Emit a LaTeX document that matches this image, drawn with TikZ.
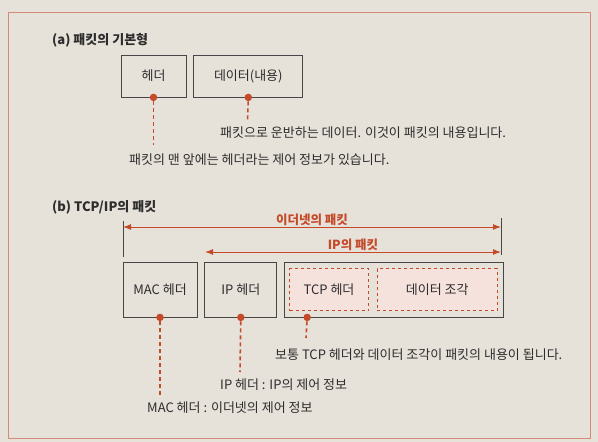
\documentclass[tikz,border=0pt]{standalone}
\usepackage{fontspec}
\setmainfont{Noto Sans CJK KR}
\usetikzlibrary{arrows.meta,positioning}
\definecolor{accent}{RGB}{196,74,42}
\definecolor{boxline}{RGB}{70,70,70}
\definecolor{ink}{RGB}{45,45,45}
\definecolor{paper}{RGB}{230,225,217}
\definecolor{frameline}{RGB}{212,140,120}

\begin{document}
\begin{tikzpicture}[x=1pt, y=-1pt, font=\fontsize{13}{15}\selectfont, text=ink, node distance=7pt]
\tikzstyle{box}=[rectangle, draw=boxline, line width=0.8pt, inner sep=0pt, align=center]
\tikzstyle{part}=[rectangle, draw=accent, dashed, fill=accent!16, line width=0.7pt, inner sep=0pt, minimum height=42pt]
\tikzstyle{knob}=[circle, fill=accent, inner sep=0pt, minimum size=7.5pt]
\tikzstyle{leadline}=[accent, line width=1.6pt, dash pattern=on 4pt off 3pt]
\tikzstyle{note}=[anchor=west, inner sep=0pt]
\tikzstyle{heading}=[anchor=west, inner sep=0pt, font=\fontsize{13}{15}\selectfont\bfseries]
\tikzstyle{spanarrow}=[accent, line width=1pt, {Latex[length=8pt,width=6pt]}-{Latex[length=8pt,width=6pt]}]
\tikzstyle{spanlabel}=[above=1pt, inner sep=0pt, text=accent, font=\fontsize{12.5}{14}\selectfont\bfseries]
\tikzstyle{tick}=[boxline, line width=0.6pt]
\fill[paper] (0,0) rectangle (598,442);
\draw[frameline, line width=0.8pt] (8,12) rectangle (590,438);

\node[heading] (ta) at (52,40) {(a) 패킷의 기본형};
\node[box, minimum width=65pt, minimum height=42pt] (hdr) at (153.5,76) {헤더};
\node[box, minimum width=109pt, minimum height=42pt, right=of hdr] (data) {데이터(내용)};
\node[knob] (hdot) at (hdr.south) {};
\node[knob] (ddot) at (data.south) {};
\coordinate (hend) at (153.5,145);
\coordinate (dend) at (247.5,122);
\draw[leadline] (hdot) -- (hend);
\draw[leadline] (ddot) -- (dend);
\node[note] (dnote) at (220,133) {패킷으로 운반하는 데이터. 이것이 패킷의 내용입니다.};
\node[note] (hnote) at (129,160) {패킷의 맨 앞에는 헤더라는 제어 정보가 있습니다.};

\node[heading] (tb) at (52,207) {(b) TCP/IP의 패킷};
\coordinate (ltop) at (123,221);
\coordinate (lbot) at (123,257);
\coordinate (rtop) at (501,218);
\coordinate (rbot) at (501,255);
\coordinate (ethl) at (123,227);
\coordinate (ethr) at (501,227);
\coordinate (ipl) at (205,252);
\coordinate (ipr) at (501,252);
\draw[tick] (ltop) -- (lbot);
\draw[tick] (rtop) -- (rbot);
\draw[spanarrow] (ethl) -- node[spanlabel] (ethlabel) {이더넷의 패킷} (ethr);
\draw[spanarrow] (ipl) -- node[spanlabel] (iplabel) {IP의 패킷} (ipr);

\node[box, minimum width=74pt, minimum height=55pt] (mac) at (160,289.5) {MAC 헤더};
\node[box, minimum width=72pt, minimum height=55pt, right=of mac] (iph) {IP 헤더};
\node[box, minimum width=219pt, minimum height=55pt, right=of iph] (body) {};
\node[part, minimum width=79pt, right=5pt of body.west] (tcp) {TCP 헤더};
\node[part, minimum width=120pt, right=8pt of tcp] (piece) {데이터 조각};
\node[knob] (mdot) at (mac.south) {};
\node[knob] (idot) at (iph.south) {};
\node[knob] (tdot) at ([xshift=23pt]body.south west) {};
\coordinate (mend) at (160,397);
\coordinate (iend) at (240,372);
\coordinate (tend) at (306,338);
\draw[leadline] (mdot) -- (mend);
\draw[leadline] (idot) -- (iend);
\draw[leadline] (tdot) -- (tend);
\node[note] (tnote) at (275,355) {보통 TCP 헤더와 데이터 조각이 패킷의 내용이 됩니다.};
\node[note] (inote) at (220,385) {IP 헤더 : IP의 제어 정보};
\node[note] (mnote) at (147,408) {MAC 헤더 : 이더넷의 제어 정보};
\end{tikzpicture}
\end{document}
